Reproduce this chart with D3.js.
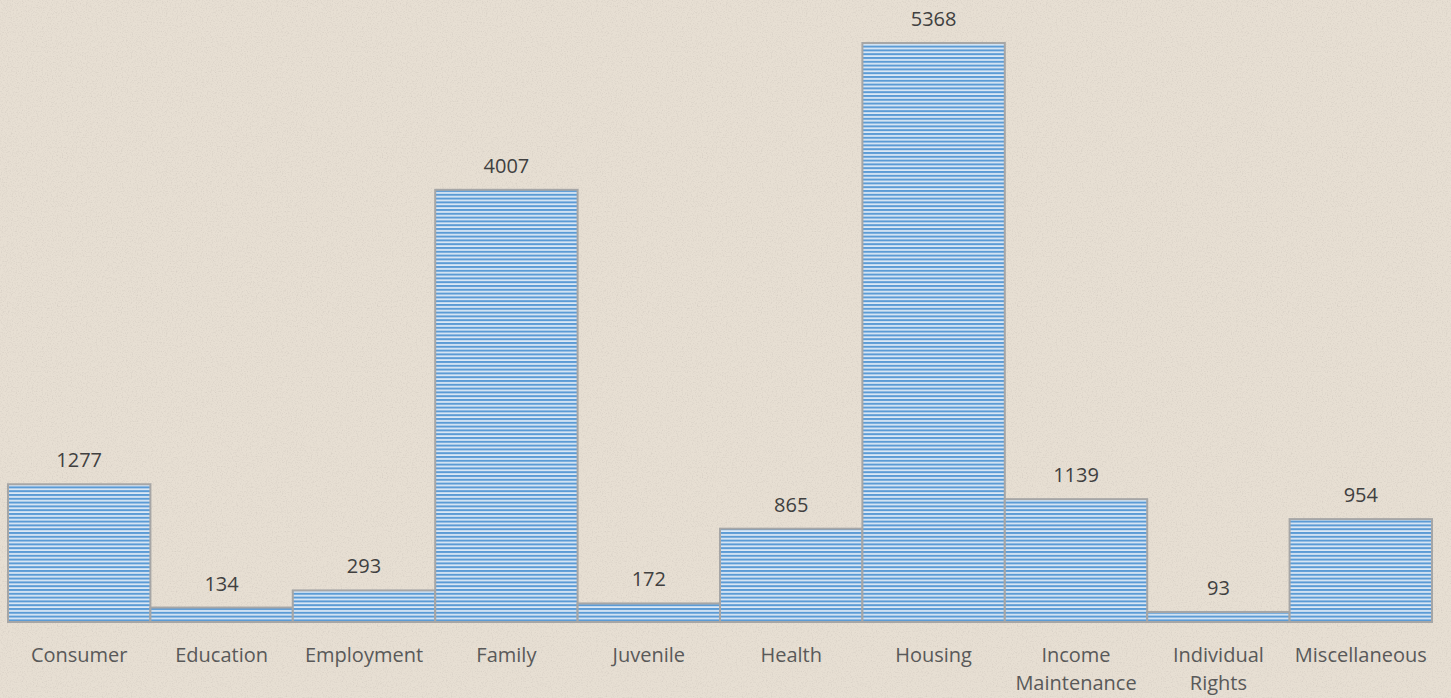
<!DOCTYPE html>
<html lang="en">
<head>
<meta charset="UTF-8">
<title>Cases by Category</title>
<script src="https://d3js.org/d3.v7.min.js"></script>
<style>
  body { margin: 0; background: #e4dcd0; overflow: hidden; }
  svg { display: block; }
  text { font-family: "Open Sans", sans-serif; }
</style>
</head>
<body>
<svg width="1451" height="698"></svg>
<script>
const categories = ["Consumer", "Education", "Employment", "Family", "Juvenile", "Health", "Housing", "Income\nMaintenance", "Individual\nRights", "Miscellaneous"];
const values = [1277, 134, 293, 4007, 172, 865, 5368, 1139, 93, 954];

const W = 1451, H = 698;
const svg = d3.select("svg");
const defs = svg.append("defs");

// paper texture
const f = defs.append("filter").attr("id", "paper").attr("x", 0).attr("y", 0).attr("width", "100%").attr("height", "100%");
f.append("feTurbulence").attr("type", "fractalNoise").attr("baseFrequency", 0.8).attr("numOctaves", 3).attr("seed", 4).attr("result", "n");
f.append("feColorMatrix").attr("in", "n").attr("type", "matrix")
  .attr("values", "0 0 0 0 0.55  0 0 0 0 0.5  0 0 0 0 0.45  0 0 0 -2 1.1");
svg.append("rect").attr("width", W).attr("height", H).attr("fill", "#e7dfd3");
svg.append("rect").attr("width", W).attr("height", H).attr("filter", "url(#paper)").attr("opacity", 0.45);

// striped bar fill
const pat = defs.append("pattern").attr("id", "stripes").attr("patternUnits", "userSpaceOnUse")
  .attr("width", 8).attr("height", 3.8);
pat.append("rect").attr("width", 8).attr("height", 3.8).attr("fill", "#dbe8f5");
pat.append("rect").attr("width", 8).attr("height", 2).attr("fill", "#5b9bd5");

const x = d3.scaleBand().domain(categories).range([8, 1432]).padding(0);
const y = d3.scaleLinear().domain([0, 5368]).range([622, 43]);

const data = categories.map((c, i) => ({ c, v: values[i] }));

svg.selectAll("rect.bar").data(data).enter().append("rect")
  .attr("class", "bar")
  .attr("x", d => x(d.c))
  .attr("y", d => y(d.v))
  .attr("width", x.bandwidth())
  .attr("height", d => y(0) - y(d.v))
  .attr("fill", "url(#stripes)")
  .attr("stroke", "#a6a6a6")
  .attr("stroke-width", 2);

svg.selectAll("text.val").data(data).enter().append("text")
  .attr("class", "val")
  .attr("x", d => x(d.c) + x.bandwidth() / 2)
  .attr("y", d => y(d.v) - 24)
  .attr("dy", "0.35em")
  .attr("text-anchor", "middle")
  .attr("font-size", 20)
  .attr("fill", "#404040")
  .text(d => d.v);

const lab = svg.selectAll("text.cat").data(data).enter().append("text")
  .attr("class", "cat")
  .attr("x", d => x(d.c) + x.bandwidth() / 2)
  .attr("y", 655)
  .attr("text-anchor", "middle")
  .attr("font-size", 20)
  .attr("fill", "#595959");
lab.selectAll("tspan").data(d => d.c.split("\n").map(t => ({ t, x: x(d.c) + x.bandwidth() / 2 })))
  .enter().append("tspan")
  .attr("x", t => t.x)
  .attr("dy", (t, i) => i === 0 ? "0.35em" : 28)
  .text(t => t.t);
</script>
</body>
</html>
